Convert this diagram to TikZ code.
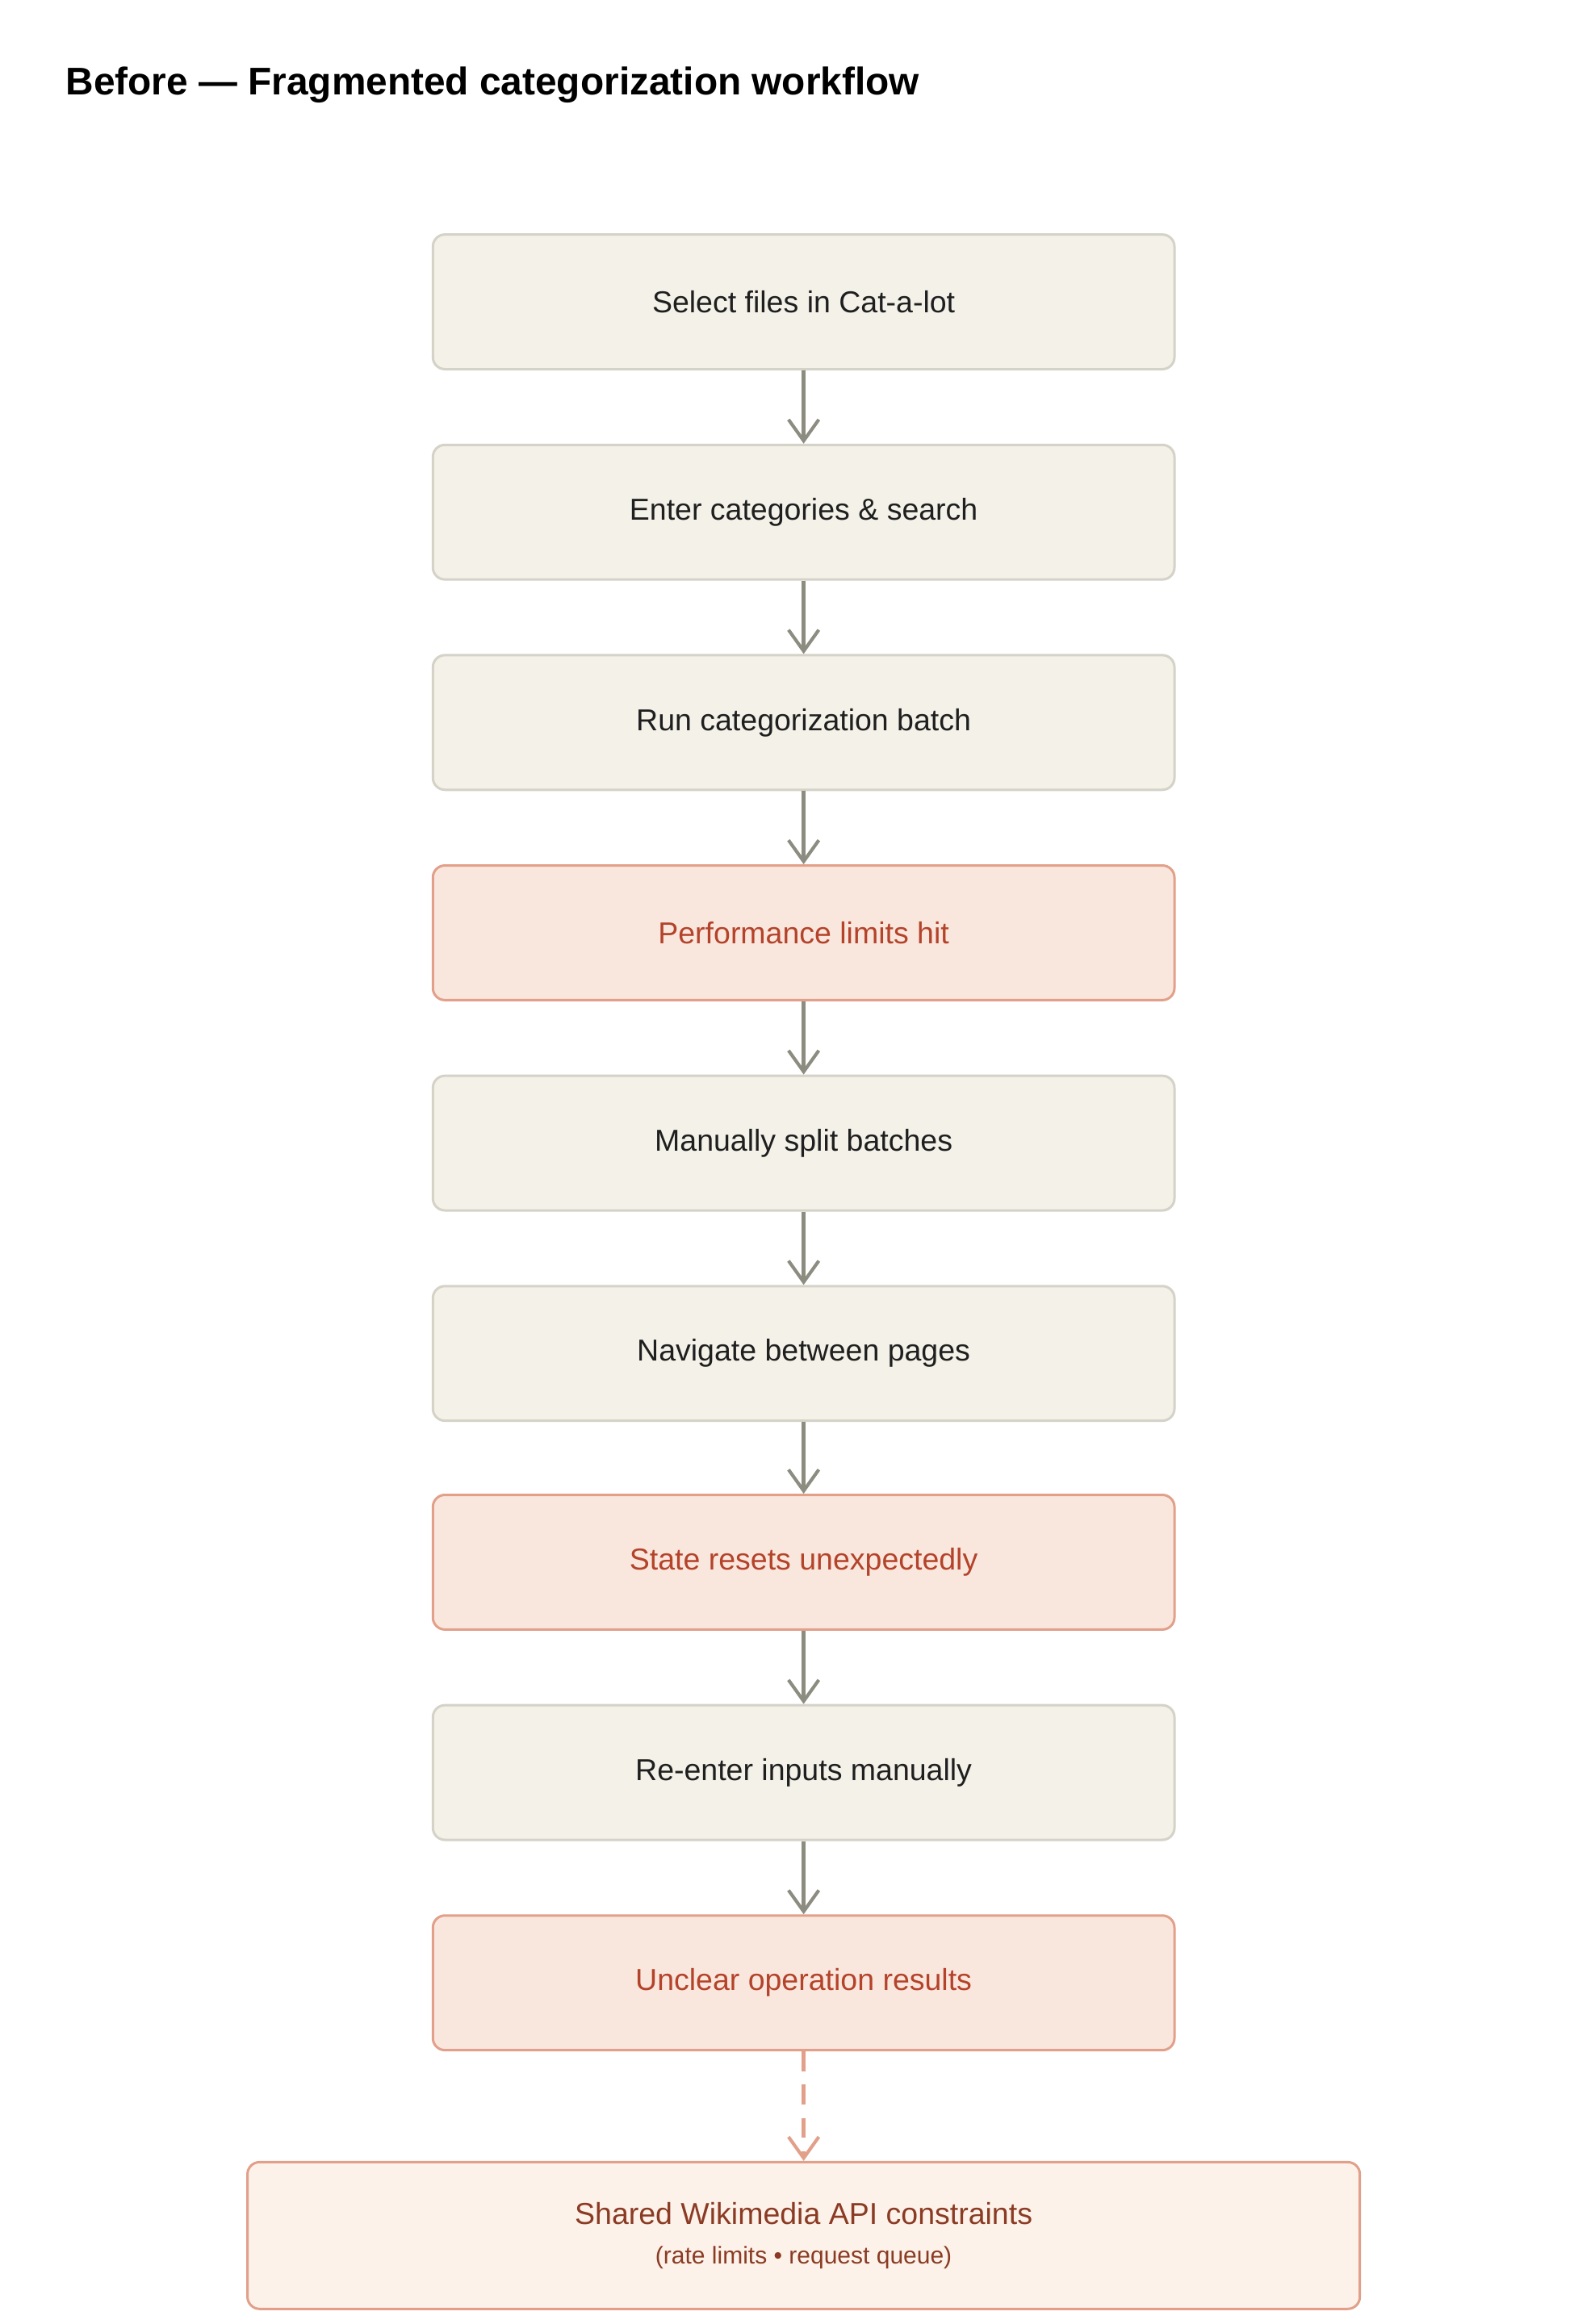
\documentclass[tikz,border=0pt]{standalone}
\usepackage{fontspec}
\setmainfont{Liberation Sans}
\usetikzlibrary{arrows.meta}
\definecolor{gfill}{HTML}{F3F1E8}
\definecolor{gdraw}{HTML}{D5D2C7}
\definecolor{rfill}{HTML}{F9E7DE}
\definecolor{rdraw}{HTML}{E2A08A}
\definecolor{rtext}{HTML}{B4432A}
\definecolor{bfill}{HTML}{FCF2E9}
\definecolor{btext}{HTML}{8B3B24}
\definecolor{arr}{HTML}{8C8C80}
\begin{document}
\begin{tikzpicture}[x=1pt,y=-1pt,
  box/.style={draw=gdraw,fill=gfill,line width=1.6pt,rounded corners=8pt,minimum width=490pt,minimum height=89pt,font=\fontsize{20}{23}\selectfont,text=black!88,inner sep=0pt},
  bad/.style={box,draw=rdraw,fill=rfill,text=rtext},
  con/.style={draw=arr,line width=2.4pt,-{Straight Barb[length=14pt,width=20pt,line width=2.2pt]}},
  dcon/.style={con,draw=rdraw,dash pattern=on 13pt off 9pt}]
\useasboundingbox[fill=white] (0,0) rectangle (1040,1536);
\node[anchor=west,font=\bfseries\fontsize{25.5}{29}\selectfont] (title) at (40,56) {Before — Fragmented categorization workflow};
\node[box] (n1) at (531,199.5) {Select files in Cat-a-lot};
\node[box] (n2) at (531,338.5) {Enter categories \& search};
\node[box] (n3) at (531,477.5) {Run categorization batch};
\node[bad] (n4) at (531,616.5) {Performance limits hit};
\node[box] (n5) at (531,755.5) {Manually split batches};
\node[box] (n6) at (531,894.5) {Navigate between pages};
\node[bad] (n7) at (531,1032.5) {State resets unexpectedly};
\node[box] (n8) at (531,1171.5) {Re-enter inputs manually};
\node[bad] (n9) at (531,1310.5) {Unclear operation results};
\node[box,draw=rdraw,fill=bfill,text=btext,minimum width=735pt,minimum height=97pt,align=center] (n10) at (531,1477.5)
  {Shared Wikimedia API constraints\\[3pt]{\fontsize{16}{19}\selectfont (rate limits • request queue)}};
\foreach \a/\b in {n1/n2,n2/n3,n3/n4,n4/n5,n5/n6,n6/n7,n7/n8,n8/n9}
  \draw[con] (\a.south) -- (\b.north);
\draw[dcon] (n9.south) -- (n10.north);
\end{tikzpicture}
\end{document}
